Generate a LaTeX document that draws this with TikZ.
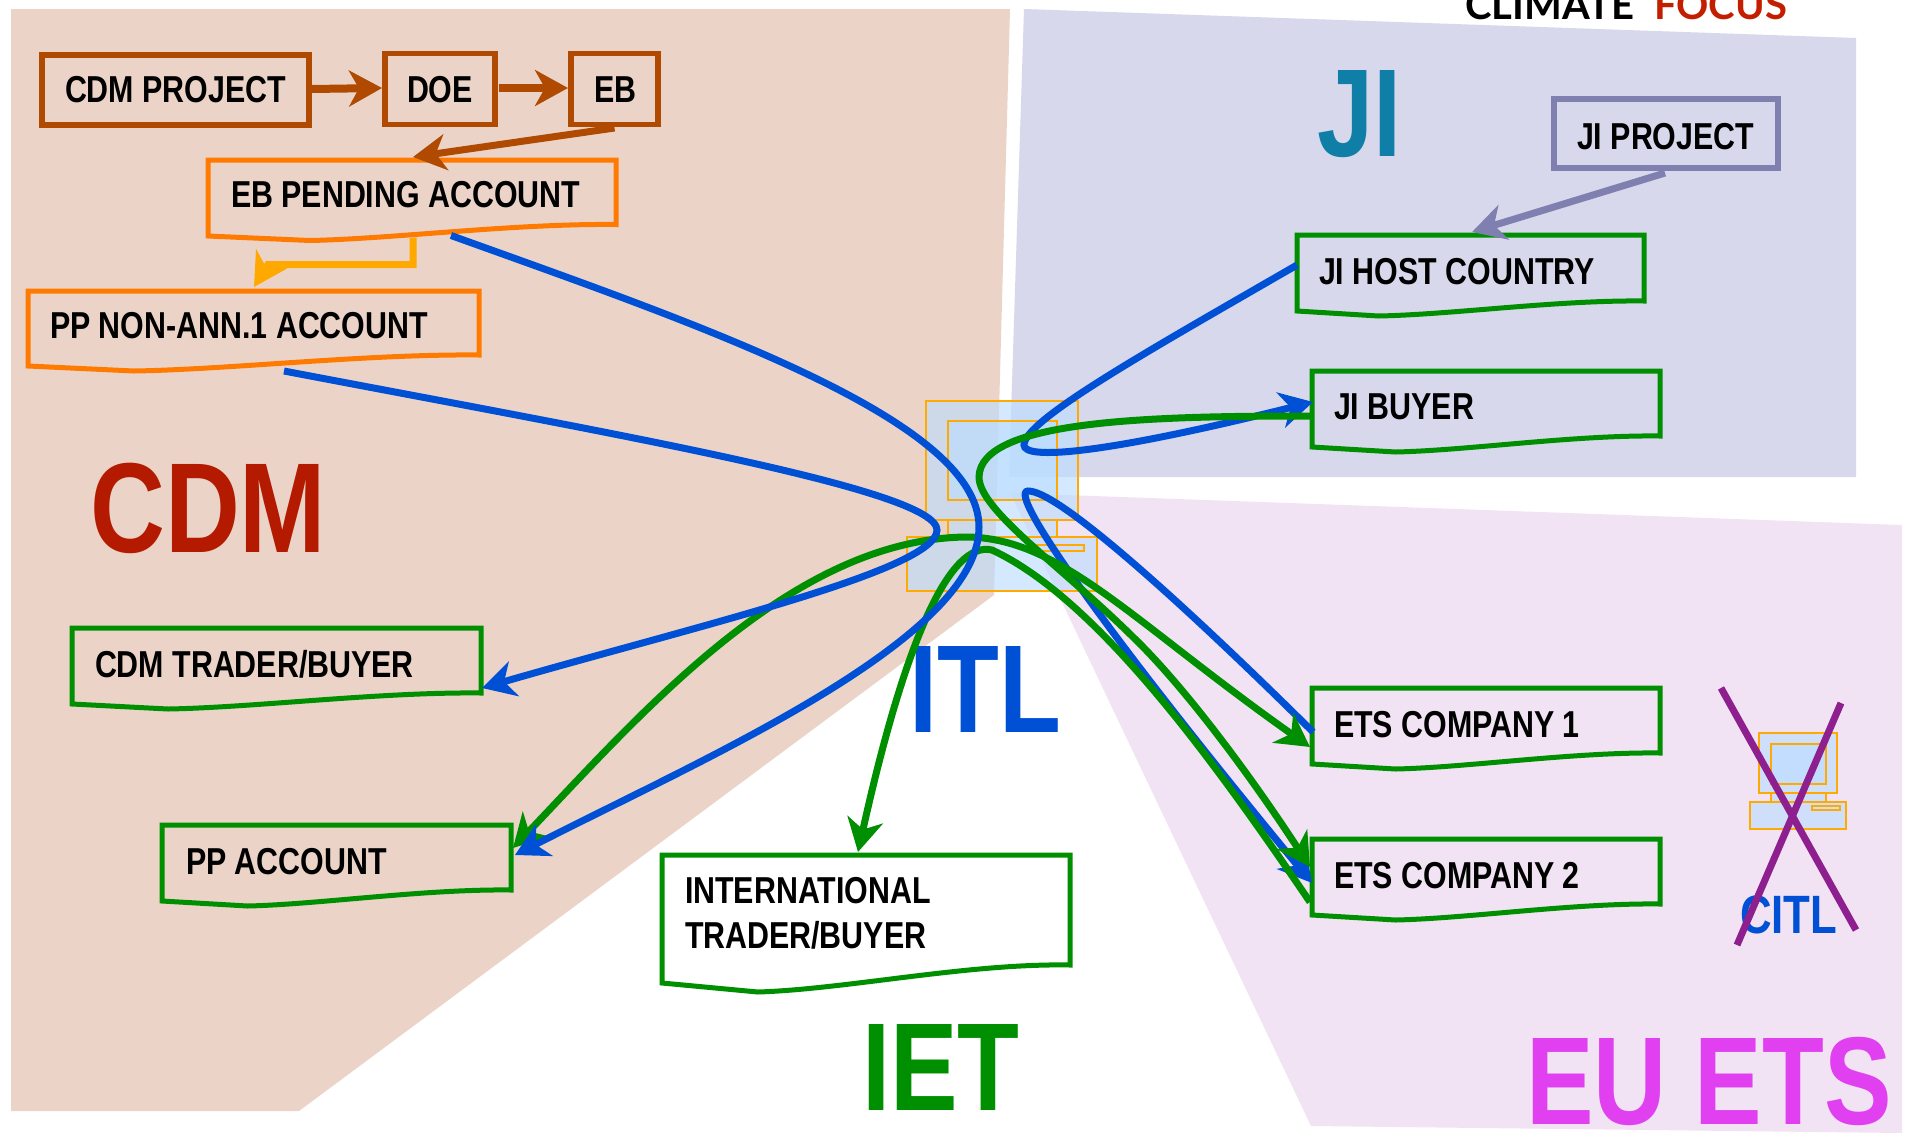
\documentclass[tikz,border=0pt]{standalone}
\usepackage{fontspec}
\setmainfont{Liberation Sans}
\newfontfamily\narrowfont{Liberation Sans}[FakeStretch=0.81]
\newfontfamily\logofont{Lato}
\usetikzlibrary{arrows.meta,calc}
\definecolor{cdmbg}{HTML}{EBD4C7}
\definecolor{jibg}{HTML}{D7D8EC}
\definecolor{eubg}{HTML}{F1E3F3}
\definecolor{brownline}{HTML}{B04A00}
\definecolor{orangeline}{HTML}{FF7A00}
\definecolor{yellowline}{HTML}{FFA800}
\definecolor{slateline}{HTML}{7F80B0}
\definecolor{greenline}{HTML}{008F00}
\definecolor{blueline}{HTML}{0050D5}
\definecolor{crossline}{HTML}{8E1F8F}
\definecolor{cdmred}{HTML}{B31A00}
\definecolor{jiteal}{HTML}{0F7FA8}
\definecolor{eumag}{HTML}{E040F0}
\definecolor{logored}{HTML}{C41E00}
\definecolor{pcfill}{HTML}{BBDDFF}
\definecolor{pcline}{HTML}{FFAA00}
\newcommand\bt[3]{\makebox[#1pt][l]{\hspace*{#2pt}#3}}
\newcommand\docoutline[5]{%
  \draw[#2,line width=5pt] (#1.north west) -- (#1.north east) -- (#1.south east)
    .. controls ($(#1.south west)!.75!(#1.south east)+(0,{-0.07*#4})$)
    and ($(#1.south west)!.45!(#1.south east)+(0,{.9*#4})$)
    .. ($(#1.south west)!#5!(#1.south east)+(0,#4)$)
    -- ($(#1.south west)+(0,#3)$) -- cycle;}
\tikzset{
  boxtext/.style n args={2}{anchor=north west,inner sep=0pt,outer sep=0pt,
    text height=#2pt,text depth={#1pt-#2pt},
    font=\narrowfont\bfseries\fontsize{37.5}{45}\selectfont,text=black},
  squarebox/.style={draw=#1,line width=5.5pt},
  bigtitle/.style={anchor=base west,inner sep=0pt,text=#1,
    font=\narrowfont\bfseries\fontsize{125}{130}\selectfont},
  flow/.style={draw=#1,line width=7pt,-{Stealth[length=33pt,width=36pt,inset=10pt,fill=#1]}},
  plainflow/.style={draw=#1,line width=7pt},
  pcpart/.style={fill=pcfill,fill opacity=.62,draw=pcline,line width=2pt},
}
\begin{document}
\begin{tikzpicture}[x=1pt,y=-1pt]
\useasboundingbox (0,0) rectangle (1912,1133);
\fill[white] (0,0) rectangle (1912,1133);
% regions
\fill[cdmbg] (11,9) -- (1010,9) -- (994,595) -- (299,1111) -- (11,1111) -- cycle;
\fill[jibg] (1024,9) -- (1856,38) -- (1856,477) -- (1009,477) -- cycle;
\fill[eubg] (1010,493) -- (1902,525) -- (1902,1133) -- (1311,1126) -- cycle;
% logo
\node[anchor=base west,inner sep=0pt,font=\logofont\bfseries\fontsize{40}{44}\selectfont,text=black] (logoa) at (1465,19.5) {CLIMATE};
\node[anchor=base west,inner sep=0pt,font=\logofont\bfseries\fontsize{40}{44}\selectfont,text=logored] (logob) at (1654,19.5) {FOCUS};
% ITL computer
\draw[pcpart] (926,401) rectangle (1078,520);
\draw[pcpart] (948,421) rectangle (1057,500);
\draw[pcpart] (948,520) rectangle (1057,537);
\draw[pcpart] (907,537) rectangle (1097,591);
\draw[pcline,line width=2pt] (1029,545) rectangle (1084,551);
% CITL computer
\draw[pcpart] (1759,733) rectangle (1837,793);
\draw[pcpart] (1771,744) rectangle (1826,784);
\draw[pcpart] (1771,793) rectangle (1826,802);
\draw[pcpart] (1750,802) rectangle (1846,829);
\draw[pcline,line width=2pt] (1812,806) rectangle (1840,810);
% titles
\node[bigtitle=cdmred,font=\narrowfont\bfseries\fontsize{128}{130}\selectfont] (cdmtitle) at (90,552) {CDM};
\node[bigtitle=jiteal] (jititle) at (1317,156) {JI};
\node[bigtitle=greenline] (iettitle) at (862,1110) {IET};
\node[bigtitle=eumag] (eutitle) at (1526,1124) {EU ETS};
\node[bigtitle=blueline] (itltitle) at (909,732) {ITL};
\node[anchor=base west,inner sep=0pt,text=blueline,font=\narrowfont\bfseries\fontsize{54}{56}\selectfont] (citltitle) at (1740,933) {CITL};
% boxes
\node[boxtext={70}{47},squarebox=brownline] (cdmproj) at (42,55) {\bt{267}{23}{CDM PROJECT}};
\node[boxtext={71}{48.5},squarebox=brownline] (doe) at (385,53.5) {\bt{110}{22}{DOE}};
\node[boxtext={71}{48.5},squarebox=brownline] (eb) at (571,53.5) {\bt{87}{23}{EB}};
\node[boxtext={69}{50},squarebox=slateline] (jiproj) at (1554,99) {\bt{224}{23}{JI PROJECT}};
\node[boxtext={64.5}{47}] (pend) at (208,160) {\bt{408}{23}{EB PENDING ACCOUNT}};
\node[boxtext={64}{47}] (ppnon) at (28,291) {\bt{451}{22}{PP NON-ANN.1 ACCOUNT}};
\node[boxtext={66}{49}] (jihost) at (1297,235) {\bt{347}{22}{JI HOST COUNTRY}};
\node[boxtext={65}{48}] (jibuyer) at (1312,371) {\bt{348}{22}{JI BUYER}};
\node[boxtext={65}{49}] (cdmtrader) at (72,628) {\bt{409}{23}{CDM TRADER/BUYER}};
\node[boxtext={65}{49}] (ppacct) at (162,825) {\bt{349}{24}{PP ACCOUNT}};
\node[boxtext={110}{48}] (intl) at (662,855) {\bt{408}{23}{\vtop{\baselineskip=45pt\hbox{INTERNATIONAL}\hbox{TRADER/BUYER}}}};
\node[boxtext={65}{49}] (etsa) at (1312,688) {\bt{348}{22}{ETS COMPANY 1}};
\node[boxtext={65}{49}] (etsb) at (1312,839) {\bt{348}{22}{ETS COMPANY 2}};
\docoutline{pend}{orangeline}{11.5}{16}{.25}
\docoutline{ppnon}{orangeline}{11}{16}{.235}
\docoutline{jihost}{greenline}{10}{15}{.235}
\docoutline{jibuyer}{greenline}{11}{16}{.24}
\docoutline{cdmtrader}{greenline}{11}{16}{.235}
\docoutline{ppacct}{greenline}{11}{16}{.245}
\docoutline{intl}{greenline}{18}{27}{.235}
\docoutline{etsa}{greenline}{11}{16}{.24}
\docoutline{etsb}{greenline}{11}{16}{.24}
% top-left flows
\draw[flow=brownline,line width=8pt] ($(cdmproj.east)+(3,-1)$) -- ($(doe.west)+(-3,-1)$);
\draw[flow=brownline,line width=8pt] ($(doe.east)+(4,-1)$) -- ($(eb.west)+(-3,-1)$);
\draw[flow=brownline] ($(eb.south)+(0,3.5)$) -- ($(pend.north west)+(205,-3)$);
\draw[flow=yellowline] ($(pend.south west)+(205,13)$) -- ($(pend.south west)+(205,40)$) -- ($(pend.south west)+(60,40)$) -- ($(ppnon.north west)+(226,-4)$);
\draw[flow=slateline] ($(jiproj.south west)+(111,5)$) -- ($(jihost.north west)+(175,-3)$);
% blue flows under the green ones
\draw[flow=blueline] ($(jihost.west)+(0,-3)$) .. controls (1150,350) and (1024,420) .. (1024,445)
   .. controls (1024,460) and (1100,455) .. ($(jibuyer.north west)+(1,31)$);
\draw[flow=blueline] ($(etsa.north west)+(1,44)$) .. controls (1200,620) and (1060,490) .. (1028,491)
   .. controls (1005,492) and (1120,650) .. ($(etsb.north west)+(0,44)$);
% green flows
\draw[flow=greenline] ($(jibuyer.north west)+(0,45)$) .. controls (1150,416) and (980,420) .. (979,477)
   .. controls (979,510) and (1060,565) .. (1133,637)
   .. controls (1190,692) and (1260,790) .. ($(etsb.north west)+(-2,28)$);
\draw[flow=greenline,{Stealth[length=33pt,width=36pt,inset=10pt]}-{Stealth[length=33pt,width=36pt,inset=10pt]}] ($(ppacct.north east)+(2,23)$) .. controls (640,715) and (790,540) .. (965,537)
   .. controls (1060,537) and (1130,620) .. ($(etsa.north west)+(-2,59)$);
\draw[flow=greenline] ($(etsb.north west)+(-2,63)$) .. controls (1220,770) and (1100,600) .. (992,550)
   .. controls (950,540) and (905,640) .. ($(intl.north west)+(196,-3)$);
% blue flows over the green ones
\draw[flow=blueline] ($(pend.south west)+(243,11)$) .. controls (700,325) and (979,420) .. (979,527)
   .. controls (979,640) and (700,760) .. ($(ppacct.north east)+(4,30)$);
\draw[flow=blueline] ($(ppnon.south west)+(256,16)$) .. controls (620,435) and (937,490) .. (937,530)
   .. controls (937,570) and (700,625) .. ($(cdmtrader.south east)+(1,-5)$);
% cross over CITL
\coordinate (xa) at (1721,688);
\coordinate (xb) at (1856,930);
\coordinate (xc) at (1841,703);
\coordinate (xd) at (1737,945);
\draw[crossline,line width=7pt] (xa) -- (xb);
\draw[crossline,line width=7pt] (xc) -- (xd);
\end{tikzpicture}
\end{document}
